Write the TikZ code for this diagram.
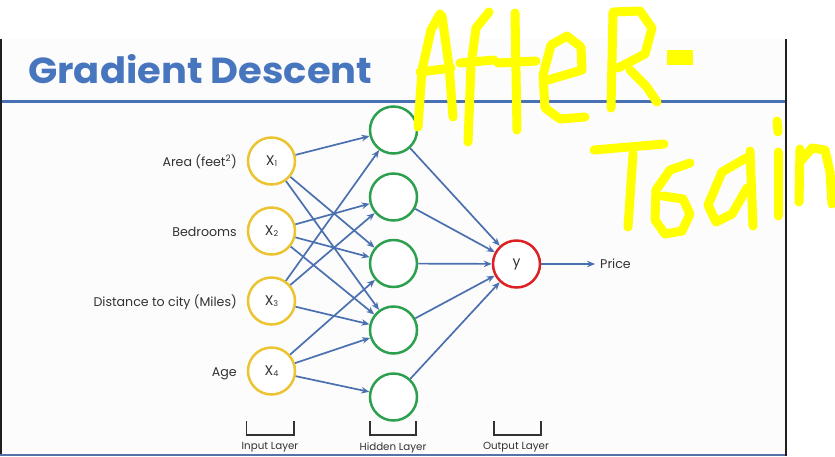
\documentclass[tikz,border=0pt]{standalone}
\usepackage{fontspec}
\usepackage{graphicx}
\setmainfont{Poppins}
\usetikzlibrary{arrows.meta}
\definecolor{titleblue}{RGB}{72,118,190}
\definecolor{lineblue}{RGB}{72,112,180}
\definecolor{arrowblue}{RGB}{74,112,176}
\definecolor{inyellow}{RGB}{236,196,48}
\definecolor{hidgreen}{RGB}{44,160,78}
\definecolor{outred}{RGB}{220,32,36}
\definecolor{labelgray}{RGB}{50,50,50}
\definecolor{hlyellow}{RGB}{255,255,0}
\definecolor{slidebg}{RGB}{252,252,252}
\begin{document}
\begin{tikzpicture}[x=1pt,y=-1pt,
  neuron/.style={circle, minimum size=47pt, inner sep=0pt, line width=2.5pt, fill=white, text=labelgray, font=\fontsize{14}{16}\selectfont},
  innode/.style={neuron, draw=inyellow},
  hidnode/.style={neuron, draw=hidgreen},
  outnode/.style={neuron, draw=outred},
  conn/.style={draw=arrowblue, line width=1.7pt, -{Stealth[length=8pt,width=6.5pt]}},
  lbl/.style={text=labelgray, font=\fontsize{12.6}{15}\selectfont, inner sep=0pt},
  layerlbl/.style={text=labelgray, font=\fontsize{10.3}{12}\selectfont, inner sep=0pt},
  bracket/.style={draw=labelgray, line width=1.6pt},
  hw/.style={draw=hlyellow, line width=9pt, line cap=round, line join=round}
]
\useasboundingbox (0,0) rectangle (835,456);
\fill[white] (0,0) rectangle (835,456);
\fill[slidebg] (2,39) rectangle (785,454);
% borders
\fill[black!88] (0,39) rectangle (2,456);
\fill[black!88] (784.5,39) rectangle (786.5,456);
\fill[lineblue!80!gray] (0,453.5) rectangle (785,456);
% header line
\fill[lineblue] (2,99.5) rectangle (785,103);
% title
\node[anchor=base west, inner sep=0pt, text=titleblue] (title) at (28,83)
  {\resizebox{344pt}{29pt}{\bfseries Gradient Descent}};

% input nodes
\node[innode] (x1) at (271.5,161) {X\raisebox{-1pt}{\fontsize{8}{8}\selectfont 1}};
\node[innode] (x2) at (271.5,231) {X\raisebox{-1pt}{\fontsize{8}{8}\selectfont 2}};
\node[innode] (x3) at (271.5,301) {X\raisebox{-1pt}{\fontsize{8}{8}\selectfont 3}};
\node[innode] (x4) at (271.5,371) {X\raisebox{-1pt}{\fontsize{8}{8}\selectfont 4}};
% hidden nodes
\node[hidnode] (h1) at (393.5,130) {};
\node[hidnode] (h2) at (393.5,197) {};
\node[hidnode] (h3) at (393.5,263.5) {};
\node[hidnode] (h4) at (393.5,330) {};
\node[hidnode] (h5) at (393.5,397) {};
% output
\node[outnode] (y) at (516.5,264) {y};
\node[lbl, anchor=west, inner sep=5pt] (price) at (595,264) {Price};

% input labels
\node[lbl, anchor=base east] (l1) at (237,166) {Area (feet\textsuperscript{2})};
\node[lbl, anchor=base east] (l2) at (237,236) {Bedrooms};
\node[lbl, anchor=base east] (l3) at (237,306) {Distance to city (Miles)};
\node[lbl, anchor=base east] (l4) at (237,376) {Age};

% connections input -> hidden
\draw[conn] (x1) -- (h1);
\draw[conn] (x1) -- (h3);
\draw[conn] (x1) -- (h4);
\draw[conn] (x2) -- (h2);
\draw[conn] (x2) -- (h3);
\draw[conn] (x2) -- (h4);
\draw[conn] (x3) -- (h1);
\draw[conn] (x3) -- (h2);
\draw[conn] (x3) -- (h4);
\draw[conn] (x4) -- (h3);
\draw[conn] (x4) -- (h4);
\draw[conn] (x4) -- (h5);
% hidden -> output
\foreach \h in {h1,h2,h3,h4,h5} \draw[conn] (\h) -- (y);
\draw[conn] (y) -- (price);

% layer brackets
\draw[bracket] (246.5,421) -- (246.5,435) -- (294,435) -- (294,421);
\draw[bracket] (370,421) -- (370,435) -- (416,435) -- (416,421);
\draw[bracket] (494,421) -- (494,435) -- (541,435) -- (541,421);
\node[layerlbl] (li) at (270,447.5) {Input Layer};
\node[layerlbl] (lh) at (393,447.5) {Hidden Layer};
\node[layerlbl] (lo) at (516,447.5) {Output Layer};

% handwritten annotation (yellow marker)
% A
\draw[hw] (418,127) -- (422,70) -- (431,30) -- (440,14);
\draw[hw] (442,16) -- (449,66) -- (453,117);
\draw[hw] (420,72) -- (451,68);
% f
\draw[hw] (468,142) -- (471,65) -- (476,28) -- (489,12);
\draw[hw] (460,63) -- (494,60);
% t
\draw[hw] (515,13) -- (517,130);
\draw[hw] (498,63) -- (536,61);
% e
\draw[hw] (548,80) -- (582,70) -- (581,47) -- (567,36) -- (551,45) -- (543,75) -- (545,108) -- (560,119) -- (585,117);
% R
\draw[hw] (611,108) -- (613,12) -- (640,11) -- (652,28) -- (645,54) -- (618,68);
\draw[hw] (630,70) -- (646,86) -- (657,102);
% dash
\fill[hlyellow] (667,50) rectangle (693,65);
% T
\draw[hw] (594,150) -- (664,144);
\draw[hw] (633,154) -- (628,227);
% b
\draw[hw] (690,163) -- (670,170) -- (656,190) -- (655,220) -- (665,234) -- (682,231) -- (690,214) -- (683,199) -- (663,196);
% a
\draw[hw] (746,158) -- (722,172) -- (708,205) -- (716,222) -- (732,214) -- (747,188);
\draw[hw] (750,151) -- (753,226);
% i
\draw[hw] (778,152) -- (778,216);
\draw[hw] (777,121) -- (778,132);
% n
\draw[hw] (799,202) -- (800,149);
\draw[hw] (800,162) -- (812,148) -- (825,150) -- (830,172) -- (832,204);
% redraw right border over marker
\fill[black!88] (784.5,39) rectangle (786.5,456);
\end{tikzpicture}
\end{document}
